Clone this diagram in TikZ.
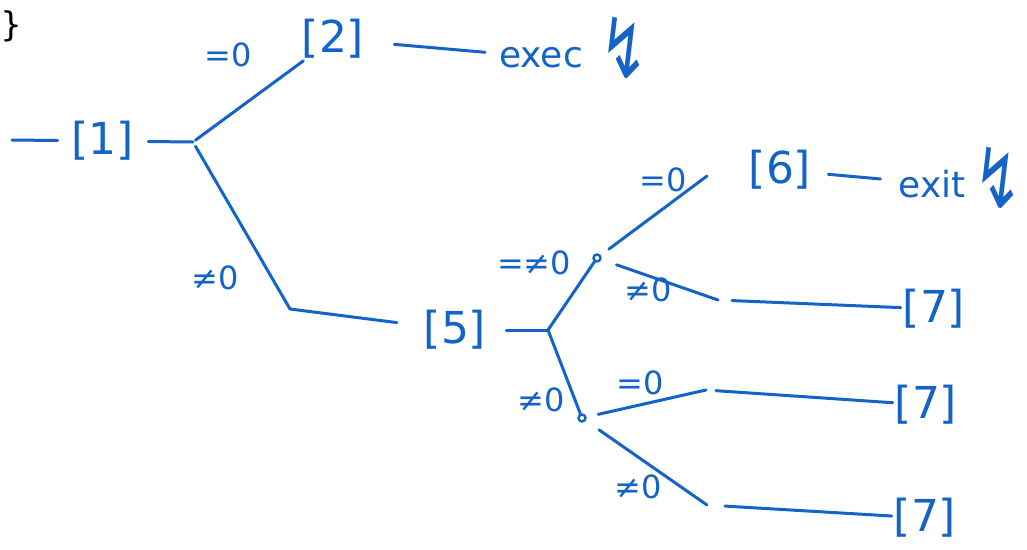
\documentclass[tikz,border=0pt]{standalone}
\usepackage{fontspec}
\setmainfont{DejaVu Sans}
\newfontfamily\monofont{DejaVu Sans Mono}
\definecolor{ink}{RGB}{20,100,200}
\begin{document}
\begin{tikzpicture}[x=1pt, y=-1pt,
    state/.style={text=ink, font=\fontsize{44}{48}\selectfont, inner sep=2pt},
    word/.style={text=ink, font=\fontsize{36}{40}\selectfont, inner sep=2pt, anchor=base},
    cond/.style={text=ink, font=\fontsize{32}{36}\selectfont, inner sep=1pt},
    bolt/.style={text=ink, font=\fontsize{56}{60}\selectfont, inner sep=0pt},
    dot/.style={circle, draw=ink, line width=2.4pt, minimum size=7pt, inner sep=0pt},
    wire/.style={draw=ink, line width=3pt, line cap=round}]
    \useasboundingbox (0,0) rectangle (1027,549);

    % left over from the line above
    \node[text=black, font=\monofont\fontsize{34}{38}\selectfont, inner sep=0pt] (brace) at (11,26) {\}};

    % states and branch points
    \coordinate (in) at (12,140);
    \node[state] (s1) at (103,141) {[1]};
    \coordinate (b1) at (193,142);
    \node[state] (s2) at (333,39) {[2]};
    \node[word] (exec) at (541,67) {exec};
    \node[bolt] (bolt1) at (624,48) {\scalebox{1}[1.5]{↯}};
    \coordinate (k1) at (290,309);
    \node[state] (s5) at (455,330) {[5]};
    \coordinate (b5) at (548,330);
    \node[dot] (d1) at (597,258) {};
    \node[dot] (d2) at (582,418) {};
    \coordinate (k6) at (707,176);
    \node[state] (s6) at (780,170) {[6]};
    \node[word] (exit) at (932,197) {exit};
    \node[bolt] (bolt2) at (998,178) {\scalebox{1}[1.5]{↯}};
    \coordinate (k7a) at (718,300);
    \node[state] (s7a) at (934,309) {[7]};
    \coordinate (k7b) at (706,390);
    \node[state] (s7b) at (926,405) {[7]};
    \coordinate (k7c) at (707,505);
    \node[state] (s7c) at (925,518) {[7]};

    % conditions
    \node[cond] (c1) at (228,55) {=0};
    \node[cond] (c2) at (215,278) {≠0};
    \node[cond] (c3) at (534,263) {=≠0};
    \node[cond] (c4) at (663,180) {=0};
    \node[cond] (c5) at (648,290) {≠0};
    \node[cond] (c6) at (541,400) {≠0};
    \node[cond] (c7) at (640,383) {=0};
    \node[cond] (c8) at (638,487) {≠0};

    % connectors
    \draw[wire, shorten >=12pt] (in) -- (s1);
    \draw[wire, shorten <=12pt] (s1) -- (b1);
    \draw[wire, shorten <=3pt] (b1) -- (s2);
    \draw[wire, shorten <=28pt, shorten >=12pt] (s2) -- (exec);
    \draw[wire, shorten <=5pt] (b1) -- (k1);
    \draw[wire, shorten >=25pt] (k1) -- (s5);
    \draw[wire, shorten <=18pt] (s5) -- (b5);
    \draw[wire] (b5) -- (d1);
    \draw[wire] (b5) -- (d2);
    \draw[wire, shorten <=10pt] (d1) -- (k6);
    \draw[wire, shorten <=15pt, shorten >=16pt] (s6) -- (exit);
    \draw[wire, shorten <=16pt] (d1) -- (k7a);
    \draw[wire, shorten <=14pt] (k7a) -- (s7a);
    \draw[wire, shorten <=12pt] (d2) -- (k7b);
    \draw[wire, shorten <=10pt] (k7b) -- (s7b);
    \draw[wire, shorten <=16pt] (d2) -- (k7c);
    \draw[wire, shorten <=18pt] (k7c) -- (s7c);
\end{tikzpicture}
\end{document}
